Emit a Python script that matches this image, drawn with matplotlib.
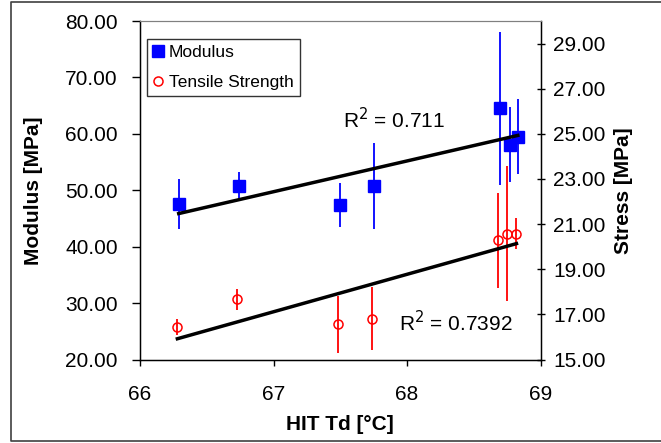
import numpy as np
import matplotlib.pyplot as plt
from matplotlib.lines import Line2D

plt.rcParams['font.family'] = ['Liberation Sans', 'DejaVu Sans']

# ------------------- Data -------------------
mod_td = [66.29, 66.74, 67.50, 67.75, 68.70, 68.77, 68.83]
modulus = [47.6, 50.7, 47.4, 50.8, 64.5, 58.1, 59.5]
modulus_err = [4.4, 2.5, 3.9, 7.6, 13.5, 6.7, 6.6]

ts_td = [66.28, 66.73, 67.48, 67.74, 68.68, 68.75, 68.82]
tensile = [16.43, 17.66, 16.57, 16.80, 20.28, 20.58, 20.58]
tensile_err = [0.36, 0.46, 1.26, 1.40, 2.10, 3.00, 0.70]

r2_modulus = "0.711"
r2_tensile = "0.7392"

# ------------------- Figure -------------------
fig = plt.figure(figsize=(6.61, 4.43), dpi=100)
# outer chart frame (left, top, bottom only - right edge is cut off)
x0, y0, y1 = 11 / 661, 2 / 443, 441 / 443
fig.lines.append(Line2D([1.0, x0, x0, 1.0], [y1, y1, y0, y0], transform=fig.transFigure,
                        color='#404040', linewidth=1.2))

ax = fig.add_axes([140 / 661, 1 - 359.5 / 443, 400.5 / 661, 338.5 / 443])
ax2 = ax.twinx()

# Modulus on left axis
ax.errorbar(mod_td, modulus, yerr=modulus_err, fmt='none', ecolor='blue', elinewidth=1.3, zorder=2)
ax.plot(mod_td, modulus, 's', color='blue', markersize=8.5, label='Modulus', zorder=3)
p = np.polyfit(mod_td, modulus, 1)
xx = np.array([min(mod_td), max(mod_td)])
ax.plot(xx, np.polyval(p, xx), color='black', linewidth=2.5, zorder=4)

# Tensile strength on right axis
ax2.errorbar(ts_td, tensile, yerr=tensile_err, fmt='none', ecolor='red', elinewidth=1.3, zorder=2)
ax2.plot(ts_td, tensile, 'o', markerfacecolor='none', markeredgecolor='red', markeredgewidth=1.1,
         markersize=6.5, label='Tensile Strength', zorder=3)
p2 = np.polyfit(ts_td, tensile, 1)
xx2 = np.array([min(ts_td), max(ts_td)])
ax2.plot(xx2, np.polyval(p2, xx2), color='black', linewidth=2.5, zorder=4)

# Axes
ax.set_xlim(66, 69)
ax.set_ylim(20, 80)
ax2.set_ylim(15, 30)
ax.set_xticks([66, 67, 68, 69])
ax.set_yticks(np.arange(20, 81, 10))
ax.set_yticklabels([f"{v:.2f}" for v in np.arange(20, 81, 10)])
ax2.set_yticks(np.arange(15, 30, 2))
ax2.set_yticklabels([f"{v:.2f}" for v in np.arange(15, 30, 2)])

ax.tick_params(axis='y', labelsize=15, length=6, width=1, direction='out', pad=10)
ax.tick_params(axis='x', labelsize=15, length=4, width=1, direction='out', pad=14)
ax2.tick_params(axis='y', labelsize=15, length=6, width=1, direction='inout', pad=6)

ax.spines['top'].set_color('#808080')
for s in ['left', 'bottom']:
    ax.spines[s].set_linewidth(1)
ax2.spines['right'].set_linewidth(1)
ax2.spines['top'].set_color('#808080')

ax.set_xlabel('HIT Td [°C]', fontsize=15, fontweight='bold', labelpad=8)
ax.set_ylabel('Modulus [MPa]', fontsize=15, fontweight='bold', labelpad=16)
ax2.set_ylabel('Stress [MPa]', fontsize=15, fontweight='bold', labelpad=6)

# R^2 annotations
ax.text(67.52, 62.5, f"R$^2$ = {r2_modulus}", fontsize=15, ha='left', va='center')
ax.text(67.94, 26.5, f"R$^2$ = {r2_tensile}", fontsize=15, ha='left', va='center')

# Legend
h1, l1 = ax.get_legend_handles_labels()
h2, l2 = ax2.get_legend_handles_labels()
leg = ax2.legend(h1 + h2, l1 + l2, loc='upper left', bbox_to_anchor=(0.018, 0.947), fontsize=12.5,
                 frameon=True, fancybox=False, edgecolor='black', handlelength=0.6,
                 handletextpad=0.3, borderpad=0.35, labelspacing=0.85, borderaxespad=0)
leg.get_frame().set_linewidth(1)

fig.savefig('out.png', dpi=100)
